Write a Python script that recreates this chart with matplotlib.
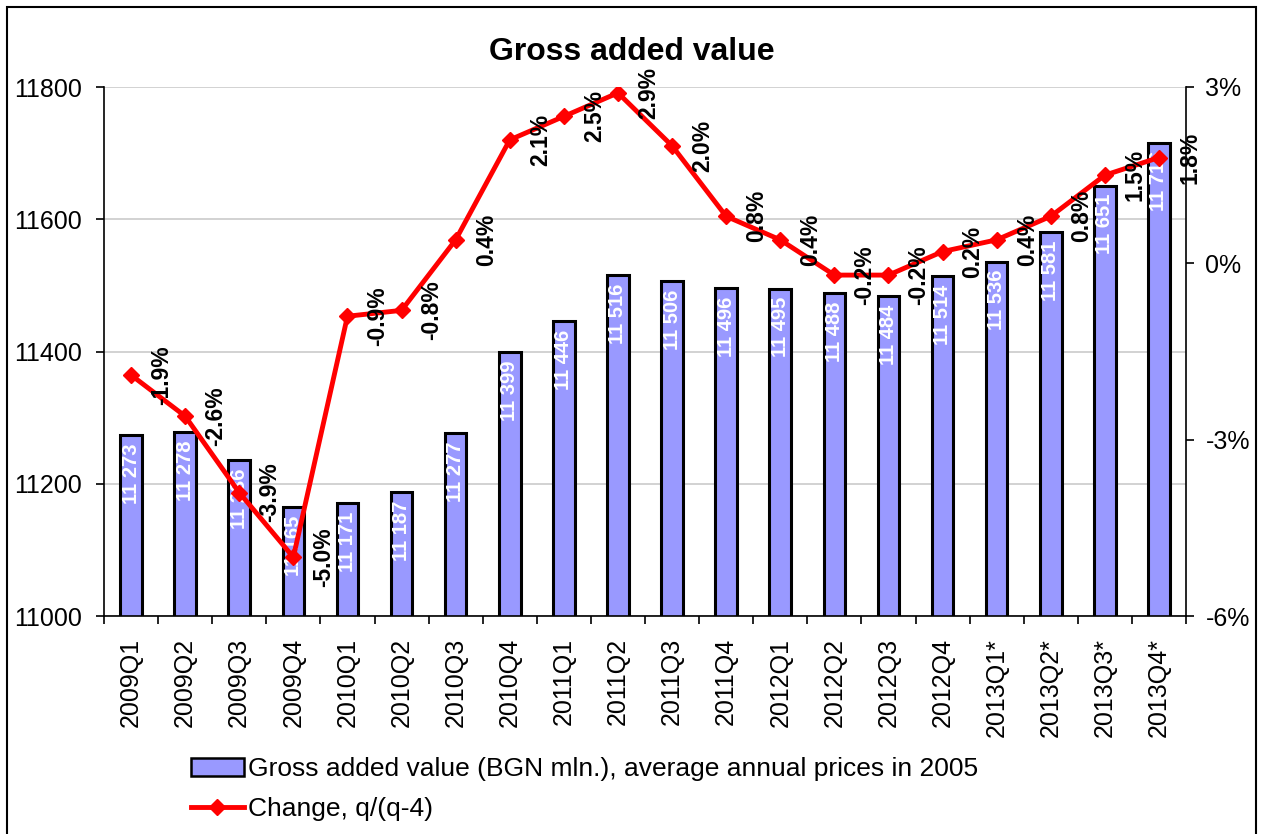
import matplotlib.pyplot as plt
import matplotlib.patches as mpatches
import matplotlib.lines as mlines
from matplotlib.ticker import FuncFormatter

plt.rcParams['font.family'] = ['Liberation Sans', 'DejaVu Sans']

quarters = ['2009Q1', '2009Q2', '2009Q3', '2009Q4', '2010Q1', '2010Q2', '2010Q3', '2010Q4',
            '2011Q1', '2011Q2', '2011Q3', '2011Q4', '2012Q1', '2012Q2', '2012Q3', '2012Q4',
            '2013Q1*', '2013Q2*', '2013Q3*', '2013Q4*']
gva = [11273, 11278, 11236, 11165, 11171, 11187, 11277, 11399, 11446, 11516,
       11506, 11496, 11495, 11488, 11484, 11514, 11536, 11581, 11651, 11716]
change = [-1.9, -2.6, -3.9, -5.0, -0.9, -0.8, 0.4, 2.1, 2.5, 2.9,
          2.0, 0.8, 0.4, -0.2, -0.2, 0.2, 0.4, 0.8, 1.5, 1.8]

W, H = 1263, 834
fig = plt.figure(figsize=(W / 100, H / 100), dpi=100)
ax = fig.add_axes([104 / W, 1 - 616 / H, 1082 / W, 529 / H])
x = list(range(len(quarters)))

# bars
ax.bar(x, gva, width=0.4, color='#9999FF', edgecolor='black', linewidth=2.2, zorder=2)
ax.set_ylim(11000, 11800)
ax.set_yticks(range(11000, 11801, 200))
ax.yaxis.grid(True, color='#CFCFCF', linewidth=1.3, zorder=0)
ax.set_axisbelow(True)
ax.set_xlim(-0.5, len(quarters) - 0.5)
ax.set_xticks(x)
ax.set_xticklabels(quarters, rotation=90, fontsize=18)
ax.tick_params(axis='x', which='major', length=0, pad=16)
ax.set_xticks([i - 0.5 for i in range(len(quarters) + 1)], minor=True)
ax.tick_params(axis='x', which='minor', length=6, width=1.2)
ax.tick_params(axis='y', labelsize=18, length=6, width=1.2, pad=10)
ax.spines['top'].set_visible(False)
ax.spines['right'].set_visible(False)
ax.spines['left'].set_linewidth(1.2)
ax.spines['bottom'].set_linewidth(1.2)

for xi, v in zip(x, gva):
    lbl = f"{v // 1000} {v % 1000:03d}"
    ax.annotate(lbl, (xi, v), xytext=(0, -6), textcoords='offset points',
                rotation=90, ha='center', va='top', color='white', fontsize=14.5,
                fontweight='bold', zorder=3)

# change line on secondary axis
ax2 = ax.twinx()
ax2.plot(x, change, color='red', linewidth=3.5, marker='D', markersize=8, zorder=4)
ax2.set_ylim(-6, 3)
ax2.set_yticks([-6, -3, 0, 3])
ax2.yaxis.set_major_formatter(FuncFormatter(lambda v, p: f"{int(v)}%"))
ax2.tick_params(axis='y', labelsize=18, length=6, width=1.2, pad=8)
ax2.spines['top'].set_visible(False)
ax2.spines['left'].set_visible(False)
ax2.spines['bottom'].set_visible(False)
ax2.spines['right'].set_linewidth(1.2)

for xi, c in zip(x, change):
    ax2.annotate(f"{c:.1f}%", (xi, c), xytext=(22, 0), textcoords='offset points',
                 rotation=90, ha='center', va='center', fontsize=16.5, fontweight='bold',
                 zorder=5)

fig.text(0.5, 1 - 52 / H, 'Gross added value', ha='center', va='center',
         fontsize=23, fontweight='bold')

h1 = mpatches.Patch(facecolor='#9999FF', edgecolor='black', linewidth=1.8)
h2 = mlines.Line2D([], [], color='red', linewidth=3.5, marker='D', markersize=8)
fig.legend([h1, h2], ['Gross added value (BGN mln.), average annual prices in 2005',
                      'Change, q/(q-4)'],
           loc='upper left', bbox_to_anchor=(191 / W, 1 - 757 / H), frameon=False,
           fontsize=19, handlelength=2.0, handleheight=0.7, handletextpad=0.15,
           labelspacing=0.6, borderaxespad=0, borderpad=0)

# outer chart border
fig.patches.append(mpatches.Rectangle((7 / W, -0.05), 1249 / W, 1.05 - 7 / H,
                                      transform=fig.transFigure, fill=False,
                                      edgecolor='black', linewidth=1.5))

fig.savefig('out.png', dpi=100)
